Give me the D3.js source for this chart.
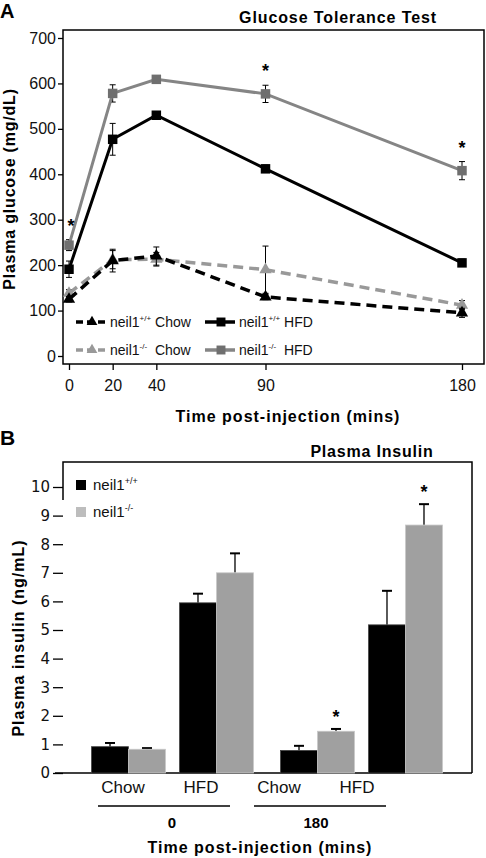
<!DOCTYPE html>
<html><head><meta charset="utf-8">
<script src="https://cdn.jsdelivr.net/npm/d3@7/dist/d3.min.js"></script>
<style>body{margin:0;background:#fff}svg{display:block;font-family:"Liberation Sans",Arial,sans-serif}</style>
</head><body><svg id="c" width="486" height="858"></svg>
<script>
// ---- Panel A data ----
const times = [0, 20, 40, 90, 180];
const glucoseTicks = [0, 100, 200, 300, 400, 500, 600, 700];
const wtChow = [125, 210, 220, 130, 95];
const wtChowErr = [6, 25, 20, 6, 10];
const koChow = [138, 212, 213, 190, 112];
const koChowErr = [8, 20, 15, 52, 10];
const wtHfd = [191, 477, 530, 412, 205];
const wtHfdErr = [18, 35, 6, 8, 8];
const koHfd = [244, 578, 609, 577, 408];
const koHfdErr = [12, 19, 6, 19, 20];
const glucoseStars = [0, 90, 180];
// ---- Panel B data ----
const timeGroups = ["0", "180"];
const diets = ["Chow", "HFD"];
const insulinWt = [0.92, 5.95, 0.79, 5.18];
const insulinWtErr = [0.13, 0.32, 0.16, 1.19];
const insulinKo = [0.83, 7.0, 1.46, 8.67];
const insulinKoErr = [0.04, 0.68, 0.08, 0.73];
const insulinStars = [false, false, true, true];
const insulinTicks = [0,1,2,3,4,5,6,7,8,9,10];

const svg = d3.select("#c");
const boldTitle = (g, x, y, txt, size, ls) => g.append("text").attr("x", x).attr("y", y).attr("text-anchor", "middle")
  .attr("font-size", size).attr("font-weight", "bold").attr("letter-spacing", ls).text(txt);

// ================= Panel A =================
const xA = d3.scaleLinear().domain([0, 180]).range([69, 462]);
const yA = d3.scaleLinear().domain([0, 700]).range([356, 38]);
const A = svg.append("g");
A.append("text").attr("x", 0).attr("y", 18).attr("font-size", 20).attr("font-weight", "bold").text("A");
boldTitle(A, 338, 23, "Glucose Tolerance Test", 16, 0.9);
A.append("rect").attr("x", 63).attr("y", 30).attr("width", 421).attr("height", 334).attr("fill", "none").attr("stroke", "#000").attr("stroke-width", 1.5);
const yAxisA = A.append("g").attr("transform", "translate(63,0)")
  .call(d3.axisLeft(yA).tickValues(glucoseTicks).tickSize(5).tickPadding(2));
yAxisA.select(".domain").remove();
yAxisA.selectAll("text").attr("font-size", 16).attr("font-family", "Liberation Sans, Arial").attr("fill", "#111");
yAxisA.selectAll("line").attr("stroke-width", 1.3);
const xAxisA = A.append("g").attr("transform", "translate(0,364)")
  .call(d3.axisBottom(xA).tickValues(times).tickSize(6).tickPadding(10));
xAxisA.select(".domain").remove();
xAxisA.selectAll("text").attr("font-size", 16).attr("font-family", "Liberation Sans, Arial").attr("fill", "#111");
xAxisA.selectAll("line").attr("stroke-width", 1.3);
boldTitle(A, 288, 422, "Time post-injection (mins)", 16, 1);
A.append("text").attr("transform", "translate(15,189) rotate(-90)").attr("text-anchor", "middle").attr("font-size", 16).attr("font-weight", "bold").attr("letter-spacing", 0.8).text("Plasma glucose (mg/dL)");

const seriesA = [
  {v: koChow, e: koChowErr, color: "#999999", mark: "#999999", dash: "10,6", shape: "tri", w: 3.5},
  {v: wtChow, e: wtChowErr, color: "#000", mark: "#000", dash: "10,6", shape: "tri", w: 3.5},
  {v: koHfd, e: koHfdErr, color: "#858585", mark: "#6f6f6f", dash: null, shape: "sq", w: 3},
  {v: wtHfd, e: wtHfdErr, color: "#000", mark: "#000", dash: null, shape: "sq", w: 3}
];
const line = d3.line().x((d, i) => xA(times[i])).y(d => yA(d));
seriesA.forEach(s => {
  const g = A.append("g");
  s.v.forEach((d, i) => {
    const x = xA(times[i]);
    g.append("line").attr("x1", x).attr("x2", x).attr("y1", yA(d - s.e[i])).attr("y2", yA(d + s.e[i])).attr("stroke", "#000").attr("stroke-width", 1);
    [d - s.e[i], d + s.e[i]].forEach(t => g.append("line").attr("x1", x - 3).attr("x2", x + 3).attr("y1", yA(t)).attr("y2", yA(t)).attr("stroke", "#000").attr("stroke-width", 1));
  });
  g.append("path").datum(s.v).attr("d", line).attr("fill", "none").attr("stroke", s.color).attr("stroke-width", s.w).attr("stroke-dasharray", s.dash);
  const sym = d3.symbol().type(s.shape === "sq" ? d3.symbolSquare : d3.symbolTriangle).size(s.shape === "sq" ? 90 : 65);
  g.selectAll(".m").data(s.v).join("path").attr("transform", (d, i) => `translate(${xA(times[i])},${yA(d)})`).attr("d", sym).attr("fill", s.mark);
});
glucoseStars.forEach(t => {
  const i = times.indexOf(t);
  const top = koHfd[i] + koHfdErr[i];
  A.append("text").attr("x", xA(t) + (t === 0 ? 2 : 0)).attr("y", yA(top) - 8).attr("text-anchor", "middle").attr("font-size", 18).attr("font-weight", "bold").text("*");
});
const legA = [
  {label: "+/+", diet: "Chow", color: "#000", mark: "#000", dash: "7,4", shape: "tri", x: 76, y: 322},
  {label: "+/+", diet: "HFD", color: "#000", mark: "#000", dash: null, shape: "sq", x: 205, y: 322},
  {label: "-/-", diet: "Chow", color: "#999", mark: "#999", dash: "7,4", shape: "tri", x: 76, y: 350},
  {label: "-/-", diet: "HFD", color: "#858585", mark: "#6f6f6f", dash: null, shape: "sq", x: 205, y: 350}
];
legA.forEach(l => {
  A.append("line").attr("x1", l.x).attr("x2", l.x + 30).attr("y1", l.y).attr("y2", l.y).attr("stroke", l.color).attr("stroke-width", 3.5).attr("stroke-dasharray", l.dash);
  const sym = d3.symbol().type(l.shape === "sq" ? d3.symbolSquare : d3.symbolTriangle).size(l.shape === "sq" ? 80 : 50);
  A.append("path").attr("transform", `translate(${l.x + 16},${l.y})`).attr("d", sym).attr("fill", l.mark);
  const t = A.append("text").attr("x", l.x + 34).attr("y", l.y + 5).attr("font-size", 14).attr("fill", "#111");
  t.append("tspan").text("neil1");
  t.append("tspan").attr("font-size", 8).attr("dy", -6).text(l.label);
  t.append("tspan").attr("dy", 6).text(l.label === "-/-" ? "\u00a0\u00a0" + l.diet : "\u00a0" + l.diet);
});

// ================= Panel B =================
const yB = d3.scaleLinear().domain([0, 10]).range([773, 487]);
const x0 = d3.scaleBand().domain(timeGroups).range([78, 456]);
const x1 = d3.scalePoint().domain(diets).range([0, x0.bandwidth()]).padding(0.574);
const x2 = d3.scaleBand().domain(["wt", "ko"]).range([-37, 37]);
const B = svg.append("g");
B.append("text").attr("x", 0).attr("y", 445).attr("font-size", 21).attr("font-weight", "bold").text("B");
boldTitle(B, 372, 457, "Plasma Insulin", 16, 0.8);
B.append("path").attr("d", "M63,500 V462 H472 V773").attr("fill", "none").attr("stroke", "#000").attr("stroke-width", 1.5);
B.append("line").attr("x1", 55).attr("x2", 472).attr("y1", 773).attr("y2", 773).attr("stroke", "#000").attr("stroke-width", 1.5);
const yAxisB = B.append("g").attr("transform", "translate(63,0)")
  .call(d3.axisLeft(yB).tickValues(insulinTicks).tickSize(10).tickPadding(3));
yAxisB.select(".domain").remove();
yAxisB.selectAll("text").attr("font-size", 15).attr("font-family", "DejaVu Sans, Verdana").attr("fill", "#111");
yAxisB.selectAll("line").attr("stroke-width", 1.3);
B.append("text").attr("transform", "translate(24,638) rotate(-90)").attr("text-anchor", "middle").attr("font-size", 16).attr("font-weight", "bold").attr("letter-spacing", 1).text("Plasma insulin (ng/mL)");

const cats = [];
timeGroups.forEach(t => diets.forEach(d => cats.push({t, d})));
cats.forEach((c, i) => {
  const cx = x0(c.t) + x1(c.d);
  [{k: "wt", v: insulinWt[i], e: insulinWtErr[i], fill: "#000", stroke: "#444"},
   {k: "ko", v: insulinKo[i], e: insulinKoErr[i], fill: "#a0a0a0", stroke: "#c8c8c8"}].forEach(b => {
    const bx = cx + x2(b.k);
    const mid = bx + x2.bandwidth() / 2;
    B.append("line").attr("x1", mid).attr("x2", mid).attr("y1", yB(b.v)).attr("y2", yB(b.v + b.e)).attr("stroke", "#000").attr("stroke-width", 1.3);
    B.append("line").attr("x1", mid - 5).attr("x2", mid + 5).attr("y1", yB(b.v + b.e)).attr("y2", yB(b.v + b.e)).attr("stroke", "#000").attr("stroke-width", 2);
    B.append("rect").attr("x", bx).attr("y", yB(b.v)).attr("width", x2.bandwidth()).attr("height", yB(0) - yB(b.v)).attr("fill", b.fill).attr("stroke", b.stroke).attr("stroke-width", 0.8);
    if (b.k === "ko" && insulinStars[i]) {
      B.append("text").attr("x", mid).attr("y", yB(b.v + b.e) - 6).attr("text-anchor", "middle").attr("font-size", 18).attr("font-weight", "bold").text("*");
    }
  });
});
const labX = d3.scalePoint().domain(cats.map((c, i) => i)).range([123, 357]);
cats.forEach((c, i) => {
  B.append("text").attr("x", labX(i)).attr("y", 793).attr("text-anchor", "middle").attr("font-size", 17).attr("fill", "#111").text(c.d);
});
timeGroups.forEach(t => {
  const idx = cats.findIndex(c => c.t === t);
  const left = labX(idx) - 25, right = labX(idx + 1) + 29;
  B.append("line").attr("x1", left).attr("x2", right).attr("y1", 806).attr("y2", 806).attr("stroke", "#000").attr("stroke-width", 1.5);
  B.append("text").attr("x", (left + right) / 2 + (t === "0" ? 8 : -4)).attr("y", 828).attr("text-anchor", "middle").attr("font-size", 15).attr("font-weight", "bold").text(t);
});
boldTitle(B, 260, 853, "Time post-injection (mins)", 16, 1);
[{lab: "+/+", fill: "#000", y: 485}, {lab: "-/-", fill: "#bdbdbd", y: 512}].forEach(l => {
  B.append("rect").attr("x", 76).attr("y", l.y - 5).attr("width", 10).attr("height", 10).attr("fill", l.fill);
  const t = B.append("text").attr("x", 93).attr("y", l.y + 5).attr("font-size", 15).attr("fill", "#111");
  t.append("tspan").text("neil1");
  t.append("tspan").attr("font-size", 9).attr("dy", -6).text(l.lab);
});
</script></body></html>
